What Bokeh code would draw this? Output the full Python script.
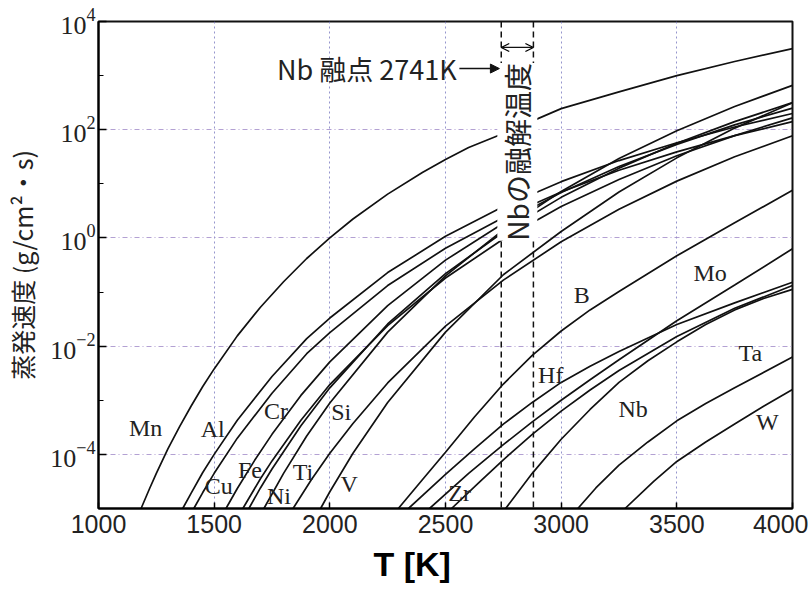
import math
from bokeh.plotting import figure
from bokeh.models import FixedTicker, Label, Arrow, NormalHead, OpenHead, Span, LogTickFormatter, ColumnDataSource, Title
from bokeh.embed import file_html
from bokeh.resources import INLINE
from bokeh.core.properties import value

# ---- data: temperature T [K] and log10 of evaporation rate (g/cm^2.s) ----
Mn_T = [1184, 1220, 1250, 1300, 1350, 1400, 1450, 1500, 1600, 1700, 1800, 1900, 2000, 2100, 2250,
        2400, 2500, 2600, 2750, 3000, 3250, 3500, 3750, 4000]
Mn_logW = [-5.0, -4.64, -4.35, -3.90, -3.49, -3.11, -2.75, -2.42, -1.81, -1.28, -0.81, -0.38, 0.0, 0.35, 0.81,
           1.21, 1.45, 1.67, 1.93, 2.39, 2.70, 3.0, 3.26, 3.5]

Al_T = [1364, 1400, 1450, 1500, 1600, 1750, 1900, 2000, 2250, 2500, 2750, 3000, 3250, 3500, 3750, 4000]
Al_logW = [-5.0, -4.72, -4.34, -4.00, -3.37, -2.56, -1.86, -1.48, -0.64, 0.03, 0.58, 1.04, 1.43, 1.76, 2.05, 2.30]

Cu_T = [1412, 1450, 1500, 1600, 1750, 1900, 2000, 2250, 2500, 2750, 3000, 3250, 3500, 3750, 4000]
Cu_logW = [-5.0, -4.71, -4.35, -3.70, -2.87, -2.14, -1.75, -0.88, -0.19, 0.38, 0.85, 1.25, 1.59, 1.89, 2.15]

Fe_T = [1551, 1600, 1675, 1750, 1875, 2000, 2250, 2500, 2750, 3000, 3250, 3500, 3750, 4000]
Fe_logW = [-5.0, -4.63, -4.11, -3.63, -2.91, -2.29, -1.25, -0.41, 0.27, 0.84, 1.32, 1.73, 2.09, 2.40]

Cr_T = [1624, 1700, 1750, 1875, 2000, 2250, 2500, 2750, 3000, 3250, 3500, 3750, 4000]
Cr_logW = [-5.0, -4.45, -4.12, -3.37, -2.71, -1.62, -0.74, -0.02, 0.58, 1.08, 1.52, 1.89, 2.22]

Ni_T = [1650, 1700, 1750, 1875, 2000, 2250, 2500, 2750, 3000, 3250, 3500, 3750, 4000]
Ni_logW = [-5.0, -4.62, -4.27, -3.47, -2.77, -1.59, -0.66, 0.11, 0.75, 1.29, 1.75, 2.15, 2.50]

Ti_T = [1715, 1800, 1900, 2000, 2250, 2500, 2750, 3000, 3250, 3500, 3750, 4000]
Ti_logW = [-5.0, -4.35, -3.66, -3.05, -1.74, -0.70, 0.15, 0.86, 1.47, 1.98, 2.43, 2.82]

Si_T = [1841, 1920, 2000, 2100, 2250, 2500, 2750, 3000, 3250, 3500, 3750, 4000]
Si_logW = [-5.0, -4.47, -3.98, -3.43, -2.68, -1.63, -0.78, -0.07, 0.53, 1.05, 1.50, 1.89]

V_T = [1960, 2000, 2100, 2250, 2500, 2750, 3000, 3250, 3500, 3750, 4000]
V_logW = [-5.0, -4.69, -3.98, -3.04, -1.74, -0.68, 0.12, 0.85, 1.48, 2.03, 2.50]

B_T = [2296, 2400, 2500, 2625, 2750, 2875, 3000, 3125, 3250, 3500, 3750, 4000]
B_logW = [-5.0, -4.47, -3.96, -3.31, -2.70, -2.17, -1.72, -1.33, -0.99, -0.33, 0.28, 0.88]

Hf_T = [2340, 2500, 2625, 2750, 2875, 3000, 3125, 3250, 3500, 3750, 4000]
Hf_logW = [-5.0, -4.37, -3.90, -3.44, -3.04, -2.67, -2.37, -2.10, -1.60, -1.20, -0.82]

Mo_T = [2431, 2600, 2750, 2875, 3000, 3125, 3250, 3500, 3750, 4000]
Mo_logW = [-5.0, -4.35, -3.82, -3.40, -3.00, -2.62, -2.25, -1.53, -0.87, -0.20]

Zr_T = [2526, 2650, 2750, 2875, 3000, 3125, 3250, 3500, 3750, 4000]
Zr_logW = [-5.0, -4.50, -4.10, -3.63, -3.20, -2.81, -2.45, -1.82, -1.30, -0.88]

Nb_T = [2760, 2875, 3000, 3125, 3250, 3375, 3500, 3625, 3750, 3875, 4000]
Nb_logW = [-5.0, -4.35, -3.72, -3.17, -2.67, -2.27, -1.92, -1.60, -1.33, -1.12, -0.95]

Ta_T = [3072, 3150, 3250, 3375, 3500, 3625, 3750, 4000]
Ta_logW = [-5.0, -4.62, -4.20, -3.77, -3.38, -3.06, -2.77, -2.20]

W_T = [3276, 3400, 3500, 3625, 3750, 3875, 4000]
W_logW = [-5.0, -4.50, -4.13, -3.77, -3.44, -3.11, -2.80]

# curve labels (text, T, log10 W)
label_names = ["Mn", "Al", "Cu", "Fe", "Cr", "Ni", "Ti", "Si", "V", "Zr", "Hf", "B", "Nb", "Mo", "Ta", "W"]
label_T = [1204, 1494, 1520, 1655, 1767, 1780, 1884, 2049, 2084, 2561, 2955, 3089, 3311, 3644, 3818, 3891]
label_logW = [-3.52, -3.54, -4.58, -4.28, -3.19, -4.76, -4.32, -3.21, -4.54, -4.72, -2.54, -1.06, -3.17, -0.64, -2.12, -3.41]

x_ticks = [1000, 1500, 2000, 2500, 3000, 3500, 4000]
y_ticks = [1e-4, 1e-2, 1e0, 1e2, 1e4]
y_minor = [1e-3, 1e-1, 1e1, 1e3]
nb_melt = 2741
nb_melt_upper = 2880

curves = [
    ("Mn", Mn_T, Mn_logW), ("Al", Al_T, Al_logW), ("Cu", Cu_T, Cu_logW), ("Fe", Fe_T, Fe_logW),
    ("Cr", Cr_T, Cr_logW), ("Ni", Ni_T, Ni_logW), ("Ti", Ti_T, Ti_logW), ("Si", Si_T, Si_logW),
    ("V", V_T, V_logW), ("B", B_T, B_logW), ("Hf", Hf_T, Hf_logW), ("Mo", Mo_T, Mo_logW),
    ("Zr", Zr_T, Zr_logW), ("Nb", Nb_T, Nb_logW), ("Ta", Ta_T, Ta_logW), ("W", W_T, W_logW),
]

p = figure(width=808, height=600, x_range=(1000, 4000), y_range=(1e-5, 1e4),
           y_axis_type="log", output_backend="svg", toolbar_location=None,
           min_border_left=98, min_border_right=16, min_border_top=21, min_border_bottom=92)
p.background_fill_color = "white"
p.border_fill_color = "white"
p.outline_line_color = "#111111"
p.outline_line_width = 2

# grid
p.xgrid.ticker = FixedTicker(ticks=[1500, 2000, 2500, 3000, 3500])
p.xgrid.grid_line_color = "#7b7bc0"
p.xgrid.grid_line_dash = "2 3"
p.xgrid.grid_line_alpha = 0.8
p.ygrid.ticker = FixedTicker(ticks=[1e-4, 1e-2, 1e0, 1e2])
p.ygrid.grid_line_color = "#a08ac8"
p.ygrid.grid_line_dash = "5 3 1 3"
p.ygrid.grid_line_alpha = 0.8

# x axis
p.xaxis.ticker = FixedTicker(ticks=x_ticks, minor_ticks=[])
p.xaxis.major_tick_in = 6
p.xaxis.major_tick_out = 0
p.xaxis.minor_tick_in = 0
p.xaxis.minor_tick_out = 0
p.xaxis.axis_line_width = 2
p.xaxis.major_tick_line_width = 1.5
p.xaxis.major_label_text_font = "Liberation Sans"
p.xaxis.major_label_text_font_size = "25px"
p.xaxis.major_label_text_color = "#222222"
p.xaxis.major_label_standoff = 6

# y axis
p.yaxis.ticker = FixedTicker(ticks=y_ticks, minor_ticks=y_minor)
p.yaxis.formatter = LogTickFormatter()
p.yaxis.major_tick_in = 8
p.yaxis.major_tick_out = 0
p.yaxis.minor_tick_in = 5
p.yaxis.minor_tick_out = 0
p.yaxis.axis_line_width = 2
p.yaxis.major_tick_line_width = 1.5
p.yaxis.major_label_text_font = "Liberation Serif"
p.yaxis.major_label_text_font_size = "26px"
p.yaxis.major_label_text_color = "#222222"
p.yaxis.major_label_standoff = 3
p.yaxis.axis_label = "蒸発速度 (g/cm²・s)"
p.yaxis.axis_label_text_font = "Noto Sans CJK JP"
p.yaxis.axis_label_text_font_style = "normal"
p.yaxis.axis_label_text_font_size = "25px"
p.yaxis.axis_label_text_color = "#222222"
p.yaxis.axis_label_standoff = 7

# curves
for name, T, lw in curves:
    p.line(T, [10 ** v for v in lw], line_color="#111111", line_width=1.7)

# Nb melting range dashed lines
for loc in (nb_melt, nb_melt_upper):
    p.add_layout(Span(location=loc, dimension="height", line_color="#111111",
                      line_dash="6 4", line_width=1.5))

# vertical text between the dashed lines
p.add_layout(Label(x=(nb_melt + nb_melt_upper) / 2, y=10 ** -0.05, angle=math.pi / 2,
                   text="Nbの融解温度", text_align="left", text_baseline="middle",
                   text_font="Noto Sans CJK JP", text_font_size="28px", text_color="#222222",
                   background_fill_color="white"))

# double arrow at top between the dashed lines
p.add_layout(Arrow(x_start=nb_melt, y_start=10 ** 3.52, x_end=nb_melt_upper, y_end=10 ** 3.52,
                   start=OpenHead(size=8, line_width=1.3), end=OpenHead(size=8, line_width=1.3),
                   line_width=1.3, line_color="#111111"))

# Nb melting point annotation
p.add_layout(Label(x=2548, y=10 ** 3.13, text="Nb 融点 2741K", text_align="right",
                   text_baseline="middle", text_font="Noto Sans CJK JP", text_font_size="27px",
                   text_color="#222222"))
p.add_layout(Arrow(x_start=2560, y_start=10 ** 3.13, x_end=nb_melt - 8, y_end=10 ** 3.13,
                   end=NormalHead(size=9, fill_color="#111111", line_color="#111111"),
                   line_width=1.5, line_color="#111111"))

# element labels
src = ColumnDataSource(dict(name=label_names, T=label_T, W=[10 ** v for v in label_logW]))
p.text(x="T", y="W", text="name", source=src, text_font=value("Liberation Serif"),
       text_font_size="24px", text_align="center", text_baseline="middle", text_color="#222222")

# x axis title (placed like the reference, a little left of the frame centre)
p.add_layout(Title(text="T [K]", align="left", offset=275, standoff=14,
                   text_font="Liberation Sans", text_font_style="bold",
                   text_font_size="34px", text_color="black"), "below")

open("out.html", "w").write(file_html(p, INLINE))
